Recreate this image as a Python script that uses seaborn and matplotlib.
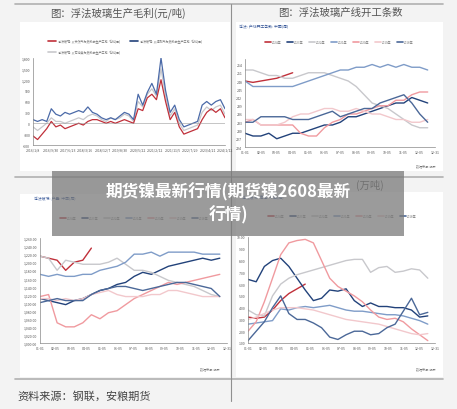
import matplotlib
matplotlib.use("Agg")
import matplotlib.pyplot as plt
import seaborn as sns
import numpy as np
from matplotlib.patches import Rectangle

sns.set_style("white")
plt.rcParams['font.family'] = ['Noto Sans CJK SC', 'DejaVu Sans']

W, H = 457, 410
# ---- data ----
tl_x_labels = ["2016/1/8", "2016/9/30", "2017/6/23", "2018/3/16", "2018/12/7", "2019/8/30", "2020/5/22", "2021/2/12", "2021/11/5", "2022/7/29", "2023/4/21", "2024/1/12"]
tl_red = [-350, -450, -300, -150, 50, -100, -50, -150, -100, -50, 0, -50, 50, 100, 100, 50, 0, 50, 0, 50, 100, 50, 0, 400, 350, 700, 800, 650, 1200, 600, 100, 300, -100, -300, -250, -200, -150, 100, 300, 400, 300, 400, 150]
tl_blue = [100, 50, 100, 50, 400, 250, 200, 300, 250, 300, 350, 300, 450, 300, 250, 150, 100, 150, 100, 200, 300, 250, 100, 800, 500, 850, 1100, 800, 1800, 900, 300, 500, 100, -100, -50, 0, 50, 500, 600, 500, 600, 650, 400]
tl_grey = [-100, -200, -100, 0, 150, 50, 50, 0, 50, 100, 150, 100, 200, 250, 200, 100, 50, 150, 100, 150, 250, 200, 50, 600, 450, 800, 950, 750, 1500, 750, 200, 400, 0, -200, -150, -100, -50, 300, 450, 350, 450, 500, 250]

wk_labels = ["01-01", "02-05", "03-05", "04-05", "05-05", "06-05", "07-05", "08-05", "09-05", "10-05", "11-05", "12-05", "12-31"]
years = ["2024年", "2023年", "2022年", "2021年", "2020年", "2019年", "2018年"]
colors = ["#c0303a", "#22427a", "#c8c8cc", "#7f9cc8", "#f09a9f", "#f2c8cc", "#4b6898"]

tr_2024 = [248, 247.5, 248, 248.5, 249, 250, 251]
tr_2023 = [229, 228, 228, 229, 227, 228, 229, 229, 230, 231, 232, 232, 233, 235, 235, 236, 237, 238, 239, 240, 240, 242, 241, 240]
tr_2022 = [252, 252, 251, 250, 250, 249, 249, 250, 251, 251, 251, 250, 249, 248, 246, 243, 240, 239, 238, 236, 234, 232, 231, 231]
tr_2021 = [248, 246, 246, 246, 246, 246, 246, 247, 248, 249, 250, 251, 252, 252, 253, 253, 254, 253, 254, 253, 254, 253, 253, 252]
tr_2020 = [233, 234, 232, 232, 232, 232, 232, 229, 228, 228, 231, 233, 234, 236, 236, 237, 238, 239, 239, 241, 241, 243, 244, 244]
tr_2019 = [234, 234, 232, 232, 232, 233, 235, 236, 236, 237, 238, 238, 237, 237, 238, 237, 236, 236, 235, 234, 234, 233, 233, 234]
tr_2018 = [233, 233, 235, 235, 235, 235, 234, 234, 234, 235, 236, 237, 235, 236, 237, 238, 238, 240, 241, 242, 243, 240, 236, 233]

bl_2024 = [1215, 1210, 1205, 1180, 1200, 1205, 1235]
bl_2023 = [1110, 1105, 1100, 1095, 1105, 1110, 1120, 1130, 1135, 1145, 1150, 1165, 1175, 1170, 1180, 1190, 1195, 1200, 1205, 1210, 1205, 1210]
bl_2022 = [1215, 1210, 1180, 1205, 1200, 1195, 1195, 1195, 1200, 1210, 1195, 1180, 1180, 1175, 1165, 1155, 1150, 1145, 1140, 1130, 1120, 1115]
bl_2021 = [1170, 1165, 1170, 1165, 1165, 1170, 1170, 1180, 1185, 1190, 1200, 1220, 1220, 1225, 1215, 1225, 1225, 1225, 1225, 1220, 1220, 1220]
bl_2020 = [1115, 1120, 1050, 1040, 1040, 1050, 1070, 1060, 1075, 1080, 1095, 1110, 1120, 1130, 1140, 1150, 1145, 1150, 1155, 1160, 1165, 1170]
bl_2019 = [1110, 1110, 1105, 1110, 1105, 1110, 1120, 1125, 1130, 1120, 1115, 1115, 1115, 1120, 1120, 1130, 1130, 1125, 1120, 1115, 1115, 1115]
bl_2018 = [1100, 1105, 1110, 1105, 1105, 1105, 1120, 1130, 1135, 1140, 1140, 1135, 1130, 1135, 1140, 1145, 1150, 1150, 1145, 1140, 1135, 1115]

br_2024 = [3.2, 3.1, 3.2, 3.8, 4.6, 5.2, 5.6, 6.0]
br_2023 = [6.4, 6.2, 7.5, 8.0, 8.2, 7.5, 6.5, 5.5, 4.6, 4.8, 5.5, 5.4, 5.6, 4.6, 4.1, 4.4, 4.1, 4.1, 4.0, 4.0, 3.8, 3.2, 3.3]
br_2022 = [3.8, 3.4, 3.3, 5.0, 6.0, 6.5, 6.8, 7.0, 7.2, 7.4, 7.6, 7.8, 8.0, 8.1, 8.1, 7.0, 7.4, 7.5, 7.0, 7.1, 7.3, 7.2, 6.5]
br_2021 = [2.6, 2.7, 2.8, 2.9, 3.9, 3.8, 4.0, 4.1, 4.0, 4.1, 4.2, 4.0, 3.8, 3.7, 3.7, 3.6, 3.5, 3.4, 3.4, 3.3, 3.1, 2.9, 2.6]
br_2020 = [2.0, 2.8, 4.5, 6.5, 8.5, 9.5, 9.7, 9.8, 9.5, 8.0, 6.5, 5.8, 5.4, 5.0, 4.5, 3.8, 3.2, 3.0, 3.1, 2.8, 2.2, 1.7, 1.2]
br_2019 = [3.0, 3.2, 3.5, 3.8, 4.0, 4.0, 4.0, 3.9, 3.8, 3.6, 3.4, 3.2, 3.0, 2.9, 2.8, 2.7, 2.6, 2.4, 2.2, 2.0, 1.8, 1.7, 1.8]
br_2018 = [1.2, 2.0, 2.8, 4.0, 5.0, 3.5, 3.0, 3.0, 2.7, 2.3, 1.5, 1.3, 1.7, 2.0, 2.0, 1.7, 1.8, 2.3, 2.6, 3.7, 4.8, 3.4, 3.6]

fig = plt.figure(figsize=(W / 100, H / 100), dpi=100)
fig.patch.set_facecolor("#f3f3f3")

def px(x0, y0, x1, y1):
    return [x0 / W, 1 - y1 / H, (x1 - x0) / W, (y1 - y0) / H]

for (x0, y0, x1, y1) in [(20, 23, 230, 172), (236, 23, 443, 172), (20, 195, 230, 378), (236, 193, 443, 378)]:
    fig.patches.append(Rectangle((x0 / W, 1 - y1 / H), (x1 - x0) / W, (y1 - y0) / H,
                                 transform=fig.transFigure, facecolor="white", edgecolor="none", zorder=-5))
for yy in [5, 178, 380]:
    fig.add_artist(plt.Line2D([15 / W, 443 / W], [1 - yy / H] * 2, color="#b0b0b0", lw=1.2, zorder=-4))
fig.add_artist(plt.Line2D([231 / W] * 2, [1 - 5 / H, 1 - 402 / H], color="#909090", lw=0.8, zorder=-4))

fig.text(118 / W, 1 - 13 / H, "图：浮法玻璃生产毛利(元/吨)", ha="center", va="center", fontsize=7.5, color="#555555")
fig.text(340 / W, 1 - 13 / H, "图：浮法玻璃产线开工条数", ha="center", va="center", fontsize=7.5, color="#555555")
fig.text(370 / W, 1 - 185 / H, "(万吨)", ha="center", va="center", fontsize=7.5, color="#555555")
fig.text(17 / W, 1 - 396 / H, "资料来源：钢联，安粮期货", ha="left", va="center", fontsize=8, color="#444444")

def style(ax, xlabels, n):
    sns.despine(ax=ax, top=True, right=True)
    ax.spines["left"].set_color("#888888"); ax.spines["bottom"].set_color("#888888")
    ax.spines["left"].set_linewidth(0.5); ax.spines["bottom"].set_linewidth(0.5)
    ax.tick_params(labelsize=2.5, length=1, width=0.4, colors="#555555", pad=1)
    ax.set_xticks(np.linspace(0, n, len(xlabels)))
    ax.set_xticklabels(xlabels)
    ax.set_xlim(0, n)
    ax.set_xlabel(""); ax.set_ylabel("")
    ax.set_facecolor("white")

ax = fig.add_axes(px(33, 59, 225, 146))
for s, c in [(tl_grey, "#c8c8cc"), (tl_blue, "#4b6aa8"), (tl_red, "#c0303a")]:
    sns.lineplot(x=np.arange(len(s)), y=s, ax=ax, color=c, lw=0.9)
ax.set_ylim(-600, 1800)
ax.set_yticks(range(-600, 1801, 300))
ax.set_yticklabels([f"{v:,}" for v in range(-600, 1801, 300)])
style(ax, tl_x_labels, len(tl_red) - 1)
ax.axhline(0, color="#999999", lw=0.4)
lab = ["浮法玻璃: 以天然气为燃料的生产工艺: 毛利(周)", "浮法玻璃: 以煤制气为燃料的生产工艺: 毛利(周)", "浮法玻璃: 以石油焦为燃料的生产工艺: 毛利(周)"]
for (lx, ly, c, t) in [(48, 42, "#c0303a", lab[0]), (130, 42, "#22427a", lab[1]), (48, 53, "#c8c8cc", lab[2])]:
    fig.add_artist(plt.Line2D([lx / W, (lx + 8) / W], [1 - ly / H] * 2, color=c, lw=1.2))
    fig.text((lx + 10) / W, 1 - ly / H, t, fontsize=2.2, va="center", color="#777777")

def season(rect, series, ylim, yt, ylab_fmt, legend_y, title_y, title):
    ax = fig.add_axes(px(*rect))
    step = 50 / (max(len(s) for s in series) - 1)
    for s, c in zip(series, colors):
        sns.lineplot(x=np.arange(len(s)) * step, y=s, ax=ax, color=c, lw=1.0)
    ax.set_ylim(*ylim)
    ax.set_yticks(yt)
    ax.set_yticklabels([ylab_fmt(v) for v in yt])
    style(ax, wk_labels, 52)
    x0 = rect[0] + 20
    for i, (c, y) in enumerate(zip(colors, years)):
        xx = x0 + i * 22
        fig.add_artist(plt.Line2D([xx / W, (xx + 6) / W], [1 - legend_y / H] * 2, color=c, lw=1.2))
        fig.text((xx + 7) / W, 1 - legend_y / H, y, fontsize=2.2, va="center", color="#777777")
    fig.text((rect[0] - 6) / W, 1 - title_y / H, title, fontsize=2.8, color="#3a5a9a")
    return ax

season((245, 60, 435, 148), [tr_2024, tr_2023, tr_2022, tr_2021, tr_2020, tr_2019, tr_2018],
       (224, 256), list(range(224, 257, 3)), lambda v: str(v), 43, 28, "浮法: 产线开工条数: 中国(周)")
season((40, 239, 227, 344), [bl_2024, bl_2023, bl_2022, bl_2021, bl_2020, bl_2019, bl_2018],
       (1000, 1260), list(range(1000, 1261, 20)), lambda v: f"{v:,}.00", 219, 200, "浮法玻璃: 产量: 中国(周)")
season((248, 238, 435, 344), [br_2024, br_2023, br_2022, br_2021, br_2020, br_2019, br_2018],
       (1, 10), list(range(1, 11)), lambda v: f"{v:.2f}", 217, 199, "浮法玻璃: 库存: 中国(周)")

for (x, y) in [(435, 167), (220, 370), (435, 370)]:
    fig.text(x / W, 1 - y / H, "数据来源: 钢联", fontsize=2.2, ha="right", color="#777777")

fig.patches.append(Rectangle((52 / W, 1 - 237 / H), 352 / W, 65 / H, transform=fig.transFigure,
                             facecolor="#7a7a7a", alpha=0.75, edgecolor="none", zorder=10))
fig.text(228 / W, 1 - 204 / H, "期货镍最新行情(期货镍2608最新\n行情)", ha="center", va="center",
         fontsize=12, fontweight="bold", color="white", linespacing=1.3, zorder=11)

fig.savefig("out.png", dpi=100)
